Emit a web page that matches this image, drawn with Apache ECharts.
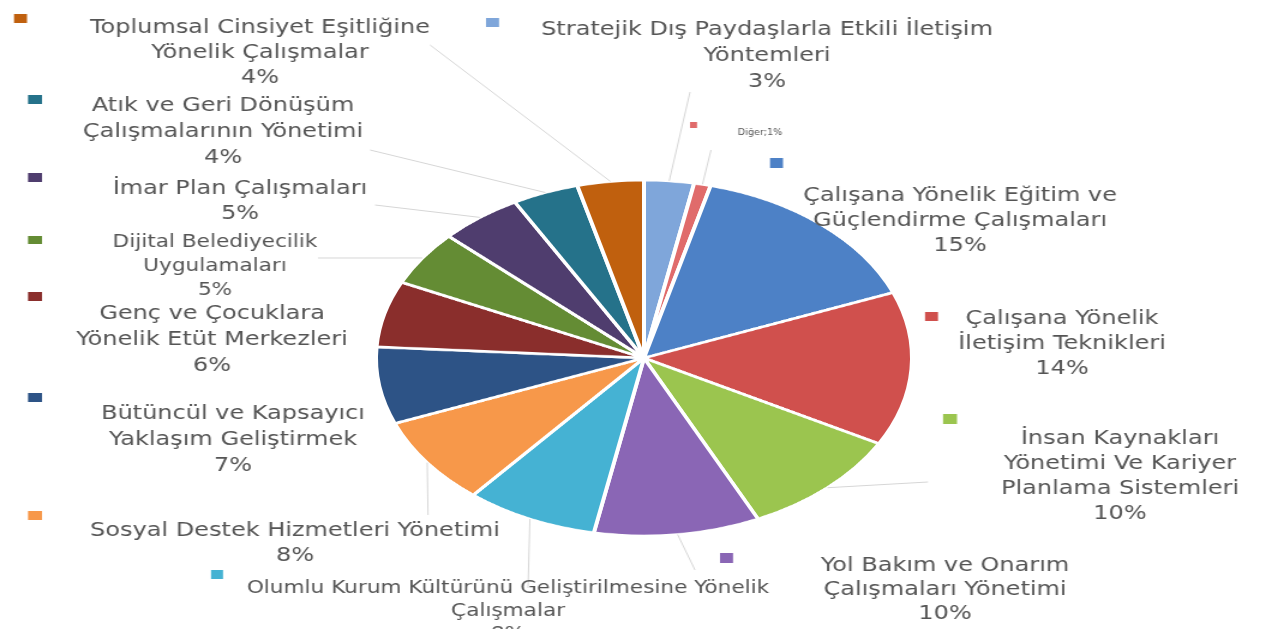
<!DOCTYPE html>
<html>
<head>
<meta charset="utf-8">
<script src="https://cdn.jsdelivr.net/npm/echarts@6/dist/echarts.min.js"></script>
<style>
  html, body { margin: 0; padding: 0; background: #fff; }
  #wrap { position: relative; width: 1280px; height: 629px; overflow: hidden; }
  #pie, #labels { position: absolute; left: 0; top: 0; height: 629px; }
  /* pie is drawn round and squashed into the tilted ellipse */
  #pie { width: 1280px; transform: scaleY(0.664); transform-origin: 644px 358px; }
  /* the source picture has horizontally stretched lettering */
  #labels { width: 1067px; transform: scaleX(1.2); transform-origin: 0 0; }
</style>
</head>
<body>
<div id="wrap"><div id="pie"></div><div id="labels"></div></div>
<script>
const categories = [
  'Stratejik Dış Paydaşlarla Etkili İletişim\nYöntemleri',
  'Diğer',
  'Çalışana Yönelik Eğitim ve\nGüçlendirme Çalışmaları',
  'Çalışana Yönelik\nİletişim Teknikleri',
  'İnsan Kaynakları\nYönetimi Ve Kariyer\nPlanlama Sistemleri',
  'Yol Bakım ve Onarım\nÇalışmaları Yönetimi',
  'Olumlu Kurum Kültürünü Geliştirilmesine Yönelik\nÇalışmalar',
  'Sosyal Destek Hizmetleri Yönetimi',
  'Bütüncül ve Kapsayıcı\nYaklaşım Geliştirmek',
  'Genç ve Çocuklara\nYönelik Etüt Merkezleri',
  'Dijital Belediyecilik\nUygulamaları',
  'İmar Plan Çalışmaları',
  'Atık ve Geri Dönüşüm\nÇalışmalarının Yönetimi',
  'Toplumsal Cinsiyet Eşitliğine\nYönelik Çalışmalar'
];
const shares = [3, 1, 15, 14, 10, 10, 8, 8, 7, 6, 5, 5, 4, 4];
const colors = [
  '#7fa6da', '#e06b6b', '#4d81c6', '#d0504d', '#9bc54f', '#8a66b5', '#45b2d3',
  '#f7984a', '#2d5386', '#8a2e2c', '#648c34', '#4f3d6e', '#25728a', '#c0600e'
];

// layout (screen pixels)
const CX = 644, CY = 358, R = 268, TILT = 0.664, STRETCH = 1.2;
// [centre x, top y] of each label block
const labelSpots = [
  [767, 17], [760, 128], [960, 183], [1062, 306], [1120, 426], [945, 554], [508, 577],
  [295, 518], [233, 401], [212, 301], [215, 230], [240, 176], [223, 93], [260, 15]
];
const fontSizes = [20, 8, 20, 20, 20, 20, 18, 20, 20, 20, 18, 20, 20, 20];
const lineHeights = [26, 10, 25, 25, 25, 24, 23, 25, 26, 26, 24, 25, 26, 25];
// where the leader line stops near its label (null = no line)
const lineEnds = [
  [690, 92], [711, 150], null, null, [928, 482], [695, 570], [528, 588],
  [428, 515], null, null, [318, 258], [375, 205], [370, 150], [430, 45]
];
// [left, top, width, height] of the colour squares
const squareSpots = [
  [486, 18, 13, 9], [690, 122, 7, 6], [770, 158, 13, 10], [925, 312, 13, 9],
  [943, 414, 14, 10], [720, 553, 13, 10], [211, 570, 12, 9], [28, 511, 14, 9],
  [28, 393, 14, 9], [28, 292, 14, 9], [28, 236, 14, 8], [28, 173, 14, 9],
  [28, 95, 14, 9], [14, 14, 13, 9]
];

// screen x -> x inside the stretched label layer
const sx = x => x / STRETCH;

const pieChart = echarts.init(document.getElementById('pie'));
pieChart.setOption({
  animation: false,
  series: [
    {
      type: 'pie',
      center: [CX, CY],
      radius: R,
      startAngle: 90,
      silent: true,
      label: { show: false },
      labelLine: { show: false },
      itemStyle: { borderColor: '#fff', borderWidth: 4 },
      data: categories.map((name, i) => ({
        name,
        value: shares[i],
        itemStyle: { color: colors[i] }
      }))
    }
  ]
});

const labelChart = echarts.init(document.getElementById('labels'));
labelChart.setOption({
  animation: false,
  // one tiny legend per label, used only for its colour square
  legend: squareSpots.map((s, i) => ({
    data: [categories[i]],
    left: sx(s[0]),
    top: s[1],
    itemWidth: sx(s[2]),
    itemHeight: s[3],
    icon: 'rect',
    padding: 0,
    selectedMode: false,
    formatter: () => '',
    itemStyle: { opacity: 1 }
  })),
  series: [
    {
      type: 'pie',
      center: [sx(CX), CY],
      radius: R,
      startAngle: 90,
      silent: true,
      itemStyle: { opacity: 0 },
      label: {
        show: true,
        position: 'outside',
        overflow: 'none',
        opacity: 1,
        color: '#555',
        fontFamily: 'DejaVu Sans',
        align: 'center',
        formatter: p => (p.dataIndex === 1 ? p.name + ';' + p.value + '%' : p.name + '\n' + p.value + '%')
      },
      labelLine: {
        show: true,
        lineStyle: { color: '#d6d6d6', width: 1, opacity: 1 }
      },
      labelLayout: p => {
        const i = p.dataIndex;
        const out = {
          x: sx(labelSpots[i][0]),
          y: labelSpots[i][1],
          align: 'center',
          verticalAlign: 'top'
        };
        const end = lineEnds[i];
        if (end && p.labelLinePoints) {
          // move the library's rim point onto the squashed, unstretched ellipse
          const e = p.labelLinePoints[0];
          const edgeX = CX + (e[0] - sx(CX));
          out.labelLinePoints = [
            [sx(edgeX), CY + (e[1] - CY) * TILT],
            [sx(end[0]), end[1]]
          ];
        }
        return out;
      },
      data: categories.map((name, i) => ({
        name,
        value: shares[i],
        itemStyle: { color: colors[i] },
        label: { fontSize: fontSizes[i], lineHeight: lineHeights[i] },
        labelLine: { show: lineEnds[i] != null }
      }))
    }
  ]
});
</script>
</body>
</html>
